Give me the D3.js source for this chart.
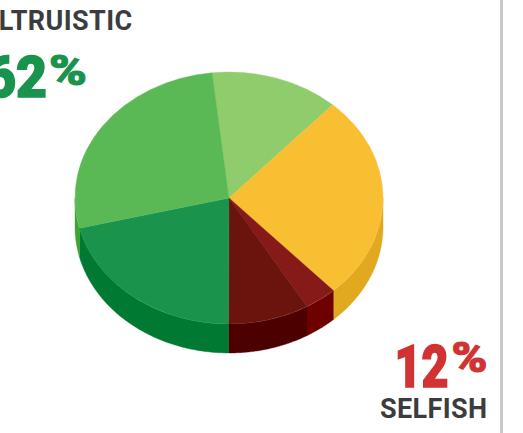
<!DOCTYPE html>
<html>
<head>
<meta charset="utf-8">
<script src="https://cdn.jsdelivr.net/npm/d3@7"></script>
<style>
html,body{margin:0;padding:0;background:#fff;overflow:hidden}
svg{display:block}
</style>
</head>
<body>
<script>
// Motivation split, in percent, clockwise from the light green slice
const categories = ["Altruistic A", "Neutral", "Selfish A", "Selfish B", "Altruistic B", "Altruistic C"];
const shares = [13.5, 26.4, 3.4, 8.5, 21.1, 27.1];
const topColors = ["#8fcc6b", "#f9bf33", "#851a18", "#6b130d", "#1a934c", "#5bb955"];
const wallColors = ["#7ab55a", "#e0a920", "#6f0000", "#4d0000", "#007a33", "#3da535"];

const width = 523, height = 433;
const cx = 229, cy = 198, rx = 154, ry = 126, depth = 29;
const startDeg = -6.3;
const tau = 2 * Math.PI;

const svg = d3.select("body").append("svg").attr("width", width).attr("height", height);

// Panel rule on the right
svg.append("rect").attr("x", 500).attr("y", 0).attr("width", 3).attr("height", height).attr("fill", "#c9c9c9");

const slices = d3.pie().sort(null)
  .startAngle(startDeg * Math.PI / 180)
  .endAngle(startDeg * Math.PI / 180 + tau)(shares);

// Horizontal and vertical scales that squash the unit circle into the tilted disc
const sx = d3.scaleLinear().domain([-1, 1]).range([cx - rx, cx + rx]);
const sy = d3.scaleLinear().domain([-1, 1]).range([cy - ry, cy + ry]);

// Side wall: only the part of each slice facing the viewer (90deg to 270deg)
const wall = d3.area()
  .x(a => sx(Math.sin(a)))
  .y0(a => sy(-Math.cos(a)))
  .y1(a => sy(-Math.cos(a)) + depth);

svg.append("g").selectAll("path")
  .data(slices.filter(d => d.endAngle > Math.PI / 2 && d.startAngle < 1.5 * Math.PI))
  .join("path")
  .attr("d", d => {
    const a0 = Math.max(d.startAngle, Math.PI / 2);
    const a1 = Math.min(d.endAngle, 1.5 * Math.PI);
    return wall(d3.range(0, 61).map(i => a0 + (a1 - a0) * i / 60));
  })
  .attr("fill", d => wallColors[d.index])
  .attr("stroke", d => wallColors[d.index])
  .attr("stroke-width", 0.4);

// Top face: unit-radius arcs scaled into an ellipse
const arc = d3.arc().innerRadius(0).outerRadius(1);
svg.append("g")
  .attr("transform", `translate(${cx},${cy}) scale(${rx},${ry})`)
  .selectAll("path")
  .data(slices)
  .join("path")
  .attr("d", arc)
  .attr("fill", d => topColors[d.index])
  .attr("stroke", d => topColors[d.index])
  .attr("stroke-width", 0.4)
  .attr("vector-effect", "non-scaling-stroke");

// Callouts; the big figures get a thin outline for extra weight
const font = "Roboto, 'Open Sans', sans-serif";
const callouts = [
  {t: "ALTRUISTIC", x: 132.5, y: 30, size: 27, w: 700, fill: "#3c3c3e", ls: 0.4},
  {t: "62", x: 47, y: 96.5, size: 58, w: 900, fill: "#1a934c", len: 62, bold: 1.6},
  {t: "%", x: 87, y: 84.5, size: 42, w: 900, fill: "#1a934c", len: 38, bold: 1},
  {t: "12", x: 448.5, y: 386.5, size: 60, w: 900, fill: "#d13232", len: 54, bold: 1.6},
  {t: "%", x: 487.5, y: 371.5, size: 42, w: 900, fill: "#d13232", len: 36, bold: 1},
  {t: "SELFISH", x: 487.5, y: 418, size: 27, w: 700, fill: "#3c3c3e", ls: 0.4}
];
svg.append("g").selectAll("text").data(callouts).join("text")
  .attr("x", d => d.x).attr("y", d => d.y)
  .attr("text-anchor", "end")
  .attr("font-family", font)
  .attr("font-size", d => d.size)
  .attr("font-weight", d => d.w)
  .attr("letter-spacing", d => d.ls || null)
  .attr("textLength", d => d.len || null)
  .attr("lengthAdjust", d => d.len ? "spacingAndGlyphs" : null)
  .attr("fill", d => d.fill)
  .attr("stroke", d => d.bold ? d.fill : null)
  .attr("stroke-width", d => d.bold || null)
  .text(d => d.t);
</script>
</body>
</html>
